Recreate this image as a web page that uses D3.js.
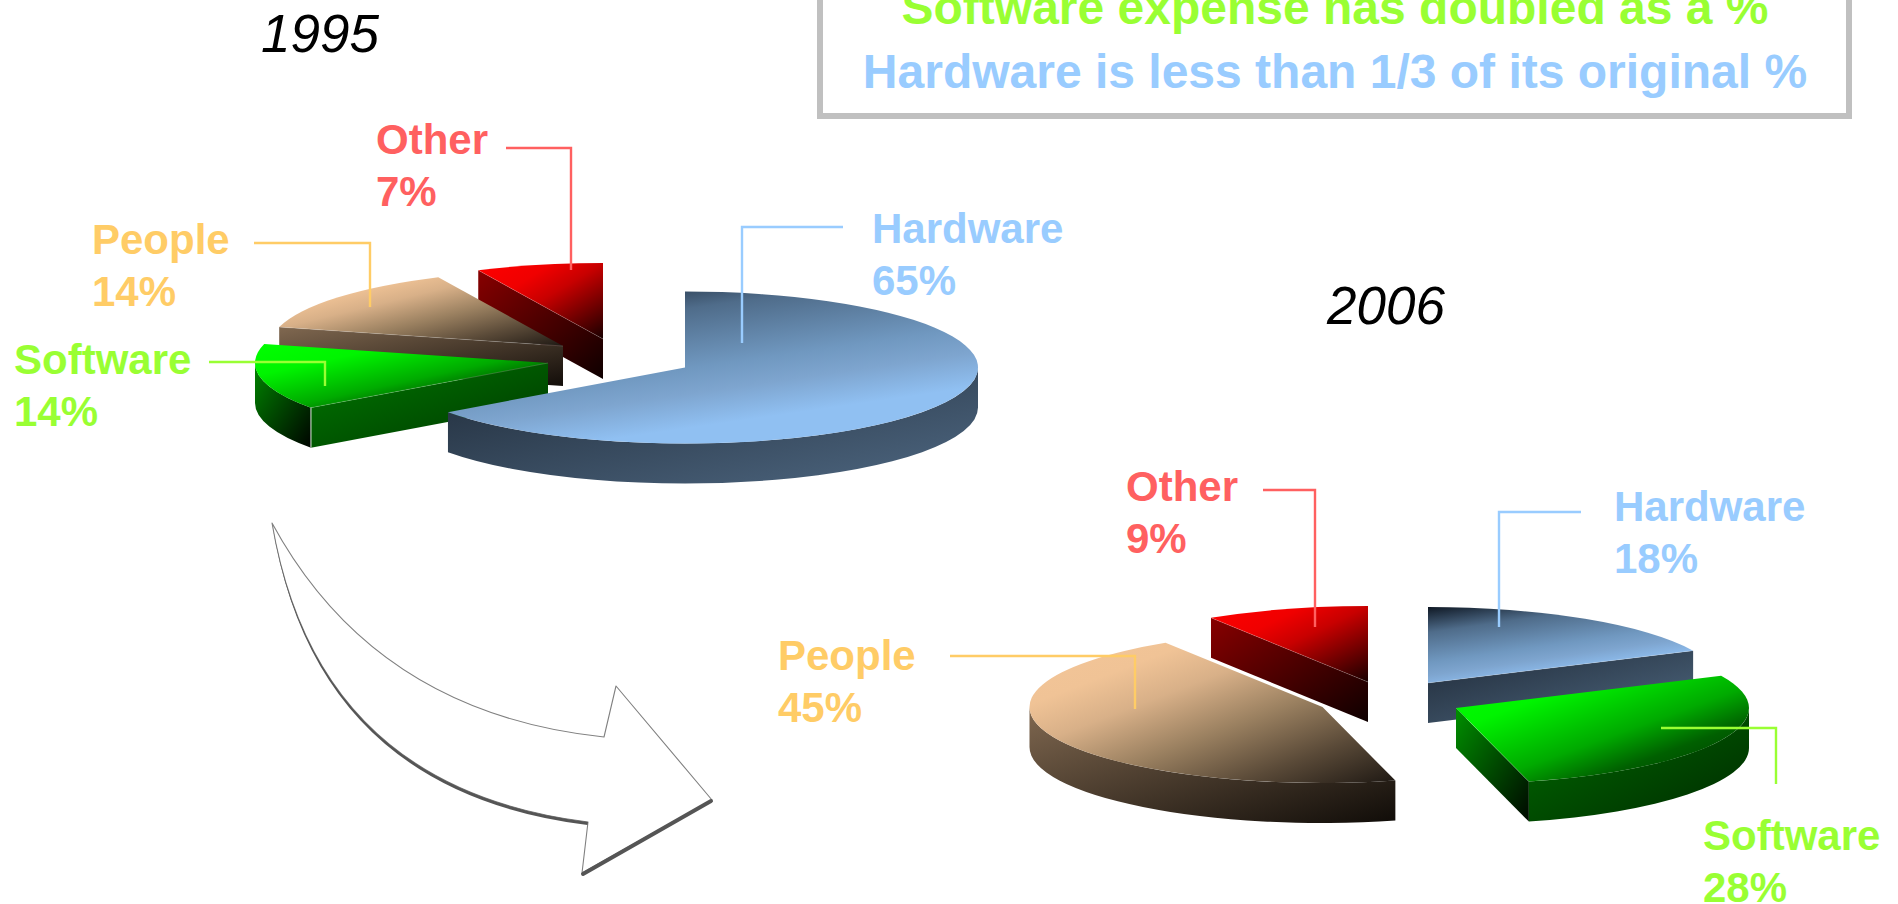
<!DOCTYPE html>
<html>
<head>
<meta charset="utf-8">
<script src="https://cdn.jsdelivr.net/npm/d3@7"></script>
<style>
  html, body { margin: 0; padding: 0; background: #fff; overflow: hidden; }
  svg { display: block; }
  text { font-family: "Liberation Sans", Arial, sans-serif; }
</style>
</head>
<body>
<svg id="chart" width="1898" height="904"></svg>
<script>
// Spending shares, in percent
const categories = ["Hardware", "Software", "People", "Other"];
const shares1995 = [65, 14, 14, 7];
const shares2006 = [18, 28, 45, 9];
const summaryLines = ["Software expense has doubled as a %", "Hardware is less than 1/3 of its original %"];

// Pie geometry: ellipse radii, rim height, and each exploded slice's centre
const RX = 293, RY = 76, DEPTH = 40;
const pieLayouts = [
  {
    year: "1995", shares: shares1995, titleAt: [261, 52],
    order: ["Other", "People", "Software", "Hardware"],
    centers: { Hardware: [685, 367.5], Software: [548, 363], People: [563, 346], Other: [603, 339] },
    walls: {
      Hardware: { rim: ["#202c3a", "#4e6781"] },
      Software: { rim: ["#008400", "#000400"], cut: ["#007800", "#003600"] },
      People:   { cut: ["#806850", "#120d09"] },
      Other:    { cut: ["#880000", "#0e0000"] }
    },
    labels: {
      Hardware: { at: [872, 243], leader: [[843, 227], [742, 227], [742, 343]] },
      Software: { at: [14, 374], leader: [[209, 362], [325, 362], [325, 386]] },
      People:   { at: [92, 254], leader: [[254, 243], [370, 243], [370, 307]] },
      Other:    { at: [376, 154], leader: [[506, 148], [571, 148], [571, 270]] }
    }
  },
  {
    year: "2006", shares: shares2006, titleAt: [1327, 324],
    order: ["Other", "People", "Hardware", "Software"],
    centers: { Hardware: [1428, 683], Software: [1456, 708], People: [1322.5, 707], Other: [1368, 682] },
    walls: {
      Hardware: { cut: ["#1f2a38", "#4f6880"] },
      Software: { rim: ["#006c00", "#002a00"], cut: ["#009000", "#000800"] },
      People:   { rim: ["#806850", "#100c08"] },
      Other:    { cut: ["#880000", "#0e0000"] }
    },
    labels: {
      Hardware: { at: [1614, 521], leader: [[1581, 512], [1499, 512], [1499, 627]] },
      Software: { at: [1703, 850], leader: [[1661, 728], [1776, 728], [1776, 784]] },
      People:   { at: [778, 670], leader: [[950, 656], [1135, 656], [1135, 709]] },
      Other:    { at: [1126, 501], leader: [[1263, 490], [1315, 490], [1315, 627]] }
    }
  }
];

const textColor = d3.scaleOrdinal(categories, ["#99ccff", "#99ff33", "#ffcc66", "#ff6060"]);

// Colour stops for the shaded top face of each category: [offset, colour]
const topStops = {
  Hardware: [[0, "#0f1824"], [0.3, "#4f6c8a"], [0.65, "#7098c0"], [0.8, "#7ea5cf"], [1, "#90c0f2"]],
  Software: [[0, "#00ff00"], [0.25, "#00f400"], [0.55, "#00aa00"], [0.72, "#006000"], [1, "#003000"]],
  People:   [[0, "#f4c698"], [0.22, "#f0c396"], [0.37, "#d8b088"], [0.575, "#9a8060"], [0.785, "#5a4a38"], [1, "#1e1813"]],
  Other:    [[0, "#ff0000"], [0.3, "#f00000"], [0.5, "#c80000"], [0.75, "#700000"], [1, "#180000"]]
};
// The hardware slice is lit from a steeper angle than the others
const topAxis = { Hardware: [0.45, 0.9], Software: [1, 1], People: [1, 1], Other: [1, 1] };

const svg = d3.select("#chart");
const defs = svg.append("defs");

function gradient(id, stops, x2, y2) {
  const g = defs.append("linearGradient").attr("id", id)
    .attr("x1", 0).attr("y1", 0).attr("x2", x2).attr("y2", y2);
  stops.forEach(([offset, color]) => {
    g.append("stop").attr("offset", offset).attr("stop-color", color);
  });
  return `url(#${id})`;
}
const wallFill = (id, colors) => gradient(id, [[0, colors[0]], [1, colors[1]]], 1, 1);

const topFill = {};
categories.forEach(c => { topFill[c] = gradient(`top-${c}`, topStops[c], topAxis[c][0], topAxis[c][1]); });

// Angles run clockwise from twelve o'clock, as d3.pie returns them
const pie = d3.pie().sort(null).value(d => d.share);

const onRim = (center, a) => [center[0] + RX * Math.sin(a), center[1] - RY * Math.cos(a)];

function topPath(center, a0, a1) {
  const p0 = onRim(center, a0), p1 = onRim(center, a1);
  const large = a1 - a0 > Math.PI ? 1 : 0;
  return `M${center}L${p0}A${RX},${RY} 0 ${large} 1 ${p1}Z`;
}

function rimPath(center, a0, a1) {
  // Only the part of the outer wall facing the viewer is drawn
  const from = Math.max(a0, Math.PI / 2), to = Math.min(a1, 3 * Math.PI / 2);
  if (to <= from) return null;
  const p0 = onRim(center, from), p1 = onRim(center, to);
  return `M${p0}A${RX},${RY} 0 0 1 ${p1}L${p1[0]},${p1[1] + DEPTH}` +
         `A${RX},${RY} 0 0 0 ${p0[0]},${p0[1] + DEPTH}Z`;
}

function cutPath(center, a) {
  const p = onRim(center, a);
  return `M${center}L${p}L${p[0]},${p[1] + DEPTH}L${center[0]},${center[1] + DEPTH}Z`;
}

pieLayouts.forEach(layout => {
  const slices = pie(categories.map((name, i) => ({ name, share: layout.shares[i] })));
  const byName = new Map(slices.map(s => [s.data.name, s]));
  const group = svg.append("g").attr("class", `pie-${layout.year}`);

  layout.order.forEach(name => {
    const d = byName.get(name);
    const c = layout.centers[name];
    const g = group.append("g");
    const wall = layout.walls[name];

    // A radial face shows when it turns towards the viewer
    const cutAngle = d.startAngle > Math.PI ? d.startAngle
      : (d.endAngle < Math.PI ? d.endAngle : null);
    if (cutAngle !== null && wall.cut) {
      g.append("path").attr("d", cutPath(c, cutAngle))
        .attr("fill", wallFill(`cut-${layout.year}-${name}`, wall.cut));
    }
    const rim = rimPath(c, d.startAngle, d.endAngle);
    if (rim && wall.rim) {
      g.append("path").attr("d", rim)
        .attr("fill", wallFill(`rim-${layout.year}-${name}`, wall.rim));
    }
    g.append("path").attr("d", topPath(c, d.startAngle, d.endAngle)).attr("fill", topFill[name]);

    // Fine highlight along the front edge of a radial face
    if (cutAngle !== null && wall.cut) {
      g.append("line")
        .attr("x1", c[0]).attr("y1", c[1])
        .attr("x2", onRim(c, cutAngle)[0]).attr("y2", onRim(c, cutAngle)[1])
        .attr("stroke", "#fff").attr("stroke-opacity", 0.22).attr("stroke-width", 0.8);
    }
    // Pale seam where the rim meets the radial face
    if (layout.year === "1995" && name === "Software") {
      const p = onRim(c, d.startAngle);
      g.append("line")
        .attr("x1", p[0]).attr("y1", p[1]).attr("x2", p[0]).attr("y2", p[1] + DEPTH)
        .attr("stroke", "#dfe8df").attr("stroke-width", 1);
    }
  });

  // Year heading
  svg.append("text")
    .attr("x", layout.titleAt[0]).attr("y", layout.titleAt[1])
    .attr("font-size", 53).attr("font-style", "italic")
    .attr("fill", "#000").text(layout.year);

  // Leader lines and two-line category labels
  slices.forEach(d => {
    const name = d.data.name;
    const spec = layout.labels[name];
    svg.append("path")
      .attr("d", d3.line()(spec.leader))
      .attr("fill", "none").attr("stroke", textColor(name)).attr("stroke-width", 2.4);
    const t = svg.append("text")
      .attr("x", spec.at[0]).attr("y", spec.at[1])
      .attr("font-size", 42).attr("font-weight", "bold").attr("fill", textColor(name));
    t.append("tspan").text(name);
    t.append("tspan").attr("x", spec.at[0]).attr("dy", 52).text(`${d.data.share}%`);
  });
});

// Summary box, running off the top edge
svg.append("rect")
  .attr("x", 820).attr("y", -30).attr("width", 1029).attr("height", 146)
  .attr("fill", "#fff").attr("stroke", "#c0c0c0").attr("stroke-width", 6);
const summaryColors = [textColor("Software"), textColor("Hardware")];
summaryLines.forEach((line, i) => {
  svg.append("text")
    .attr("x", 1335).attr("y", 24 + i * 64)
    .attr("text-anchor", "middle")
    .attr("font-size", 48).attr("font-weight", "bold")
    .attr("fill", summaryColors[i]).text(line);
});

// Curved arrow leading from the 1995 pie to the 2006 pie
const arrow = d3.path();
arrow.moveTo(272, 523);
arrow.quadraticCurveTo(375, 713, 604, 737);
arrow.lineTo(616, 686);
arrow.lineTo(712, 800);
arrow.lineTo(582, 873);
arrow.lineTo(588, 822);
arrow.quadraticCurveTo(317, 788, 272, 523);
arrow.closePath();
svg.append("path").attr("d", arrow.toString())
  .attr("fill", "#fff").attr("stroke", "#808080").attr("stroke-width", 1.1).attr("stroke-linejoin", "round");

// Shadowed underside: a crescent that thickens towards the arrow head
const underside = d3.path();
underside.moveTo(272, 523);
underside.quadraticCurveTo(317, 788, 588, 822);
underside.lineTo(587.5, 825);
underside.quadraticCurveTo(315, 791, 272, 523);
underside.closePath();
svg.append("path").attr("d", underside.toString()).attr("fill", "#555");
svg.append("line")
  .attr("x1", 711).attr("y1", 801).attr("x2", 583).attr("y2", 874)
  .attr("stroke", "#555").attr("stroke-width", 4).attr("stroke-linecap", "round");
</script>
</body>
</html>
